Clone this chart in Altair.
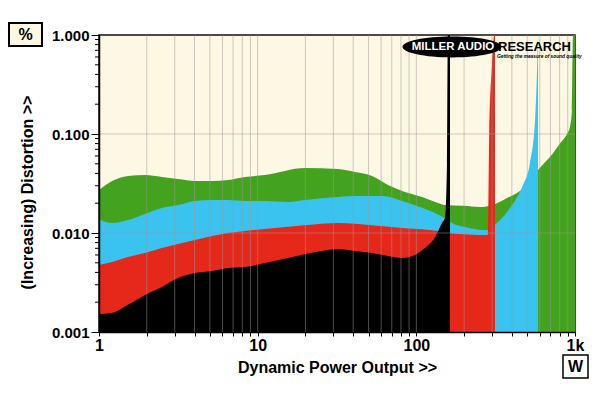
import altair as alt
import pandas as pd

# ---- data (W vs % distortion) ----
green_x = [1.0, 1.21, 1.52, 1.95, 2.49, 3.15, 4.03, 5.15, 6.5, 8.32, 11.1, 19.9, 32.1, 41.1, 52.6, 66.3,
           84.8, 108.6, 136.9, 151.7, 197, 252, 304, 373, 431, 498, 585, 727, 804, 890, 929, 957, 972, 1000]
green_y = [0.0272, 0.0335, 0.0376, 0.0385, 0.0368, 0.0351, 0.0335, 0.0335, 0.0343, 0.0368, 0.0385, 0.0454,
           0.0443, 0.0413, 0.0376, 0.0305, 0.0259, 0.0231, 0.0201, 0.0192, 0.0188, 0.0183, 0.0192, 0.0226,
           0.0254, 0.0305, 0.0433, 0.064, 0.080, 0.100, 0.118, 0.175, 1.0, 1.0]

cyan_x = [1.0, 1.21, 1.52, 1.95, 2.49, 3.15, 4.03, 5.15, 6.5, 8.32, 11.1, 15.5, 19.9, 32.1, 41.1, 60.8,
          84.8, 118, 147, 163, 218, 279, 322, 373, 431, 470, 520, 560, 578, 585]
cyan_y = [0.0138, 0.0126, 0.0135, 0.0156, 0.0179, 0.0192, 0.0211, 0.0216, 0.0216, 0.0211, 0.0211, 0.0206,
          0.0216, 0.0231, 0.0236, 0.0236, 0.0206, 0.0171, 0.0145, 0.0129, 0.0112, 0.0107, 0.0126, 0.0163,
          0.0230, 0.0305, 0.051, 0.138, 0.5, 1.0]

red_x = [1.0, 1.21, 1.52, 1.95, 2.49, 3.15, 4.03, 5.15, 6.5, 8.32, 11.1, 19.9, 32.1, 52.6, 84.8, 137,
         163, 282, 288, 300, 310, 313]
red_y = [0.00475, 0.0051, 0.00573, 0.00628, 0.00705, 0.00774, 0.0085, 0.00933, 0.0100, 0.0105, 0.0110,
         0.0120, 0.0126, 0.0120, 0.0112, 0.0105, 0.00995, 0.00955, 0.1, 0.5, 1.0, 1.0]

black_x = [1.0, 1.21, 1.52, 1.95, 2.49, 3.15, 4.03, 5.15, 6.5, 8.32, 11.1, 15.5, 25.4, 32.1, 41.1, 52.6,
           66.3, 81, 98, 113, 131, 145, 152, 156, 158, 163]
black_y = [0.00152, 0.00156, 0.00188, 0.00237, 0.00285, 0.00351, 0.00394, 0.00413, 0.00443, 0.00454,
           0.00498, 0.00559, 0.00658, 0.00689, 0.00658, 0.00628, 0.00586, 0.00559, 0.0060, 0.00705,
           0.0090, 0.0126, 0.0145, 0.05, 1.0, 1.0]

x_ticks = [1, 2, 3, 4, 5, 6, 7, 8, 9, 10, 20, 30, 40, 50, 60, 70, 80, 90, 100,
           200, 300, 400, 500, 600, 700, 800, 900, 1000]
y_major = [0.001, 0.01, 0.1, 1.0]
y_grid = [0.01, 0.1]
y_minor = [0.002, 0.003, 0.004, 0.005, 0.006, 0.007, 0.008, 0.009,
           0.02, 0.03, 0.04, 0.05, 0.06, 0.07, 0.08, 0.09,
           0.2, 0.3, 0.4, 0.5, 0.6, 0.7, 0.8, 0.9]

series = [("green", green_x, green_y, "#43a31f"),
          ("cyan", cyan_x, cyan_y, "#3bc3f0"),
          ("red", red_x, red_y, "#e5281a"),
          ("black", black_x, black_y, "#000000")]

FONT = "Liberation Sans"
CREAM = "#fcf8e3"
W, H = 476, 297

xscale = alt.Scale(type="log", domain=[1, 1000], nice=False)
yscale = alt.Scale(type="log", domain=[0.001, 1], nice=False)

x_axis = alt.Axis(values=x_ticks, grid=False, zindex=1,
                  labelExpr="datum.value==1 ? '1' : datum.value==10 ? '10' : datum.value==100 ? '100' : datum.value==1000 ? '1k' : ''",
                  labelOverlap=False, labelFlush=False, labelFont=FONT, labelFontSize=16,
                  labelFontWeight="bold", labelColor="black", labelPadding=1,
                  tickSize=4, tickColor="black", domainColor="black", domainWidth=1.5,
                  title="Dynamic Power Output >>", titleFont=FONT, titleFontSize=16,
                  titleFontWeight="bold", titleColor="black", titlePadding=6)
y_axis = alt.Axis(values=y_major, grid=False, zindex=1, format=".3f",
                  labelOverlap=False, labelFlush=False, labelFont=FONT, labelFontSize=15,
                  labelFontWeight="bold", labelColor="black", labelPadding=2,
                  tickSize=8, tickColor="black", domainColor="black", domainWidth=1.5,
                  title="(Increasing) Distortion >>", titleFont=FONT, titleFontSize=16,
                  titleFontWeight="bold", titleColor="black", titleX=-72, titleY=157,
                  titleBaseline="middle", titleAngle=270)

X = lambda: alt.X("x:Q", scale=xscale, axis=x_axis)
Y = lambda: alt.Y("y:Q", scale=yscale, axis=y_axis)

layers = []
for name, xs, ys, col in series:
    d = pd.DataFrame({"x": xs, "y": ys})
    layers.append(
        alt.Chart(d).mark_area(color=col, interpolate="monotone", clip=True, opacity=1).encode(
            x=X(), y=Y(), y2=alt.datum(0.001),
        )
    )

# gridlines drawn over the areas
layers.append(alt.Chart(pd.DataFrame({"x": x_ticks[1:-1]})).mark_rule(
    color="#999999", opacity=0.5, strokeWidth=1).encode(x=X()))
layers.append(alt.Chart(pd.DataFrame({"y": y_grid})).mark_rule(
    color="#999999", opacity=0.5, strokeWidth=1).encode(y=Y()))
# minor y ticks
layers.append(alt.Chart(pd.DataFrame({"y": y_minor})).mark_rule(
    color="black", strokeWidth=1).encode(y=Y(), x=alt.value(-4), x2=alt.value(0)))

# logo
ellipse = "M-1,0A1,0.21,0,1,0,1,0A1,0.21,0,1,0,-1,0Z"
layers.append(alt.Chart(pd.DataFrame({"t": ["logo"]})).mark_point(
    shape=ellipse, size=9801, filled=True, color="black", opacity=1, strokeWidth=0).encode(
    x=alt.value(353), y=alt.value(12)))
layers.append(alt.Chart(pd.DataFrame({"t": ["MILLER AUDIO"]})).mark_text(
    font=FONT, fontSize=11.5, fontWeight="bold", color="white", align="center", baseline="middle").encode(
    x=alt.value(354), y=alt.value(12), text="t:N"))
layers.append(alt.Chart(pd.DataFrame({"t": ["RESEARCH"]})).mark_text(
    font=FONT, fontSize=13, fontWeight="bold", color="black", align="left", baseline="middle").encode(
    x=alt.value(399), y=alt.value(12), text="t:N"))
layers.append(alt.Chart(pd.DataFrame({"t": ["Getting the measure of sound quality"]})).mark_text(
    font=FONT, fontSize=4.8, fontWeight="bold", fontStyle="italic", color="black", align="left",
    baseline="middle").encode(x=alt.value(398), y=alt.value(22), text="t:N"))

# unit boxes
layers.append(alt.Chart(pd.DataFrame({"t": ["%"]})).mark_rect(
    fill=CREAM, stroke="black", strokeWidth=2).encode(
    x=alt.value(-90), x2=alt.value(-57), y=alt.value(-12), y2=alt.value(11)))
layers.append(alt.Chart(pd.DataFrame({"t": ["%"]})).mark_text(
    font=FONT, fontSize=16, fontWeight="bold", color="black", align="center", baseline="middle").encode(
    x=alt.value(-73.5), y=alt.value(0), text="t:N"))
layers.append(alt.Chart(pd.DataFrame({"t": ["W"]})).mark_rect(
    fill="white", stroke="black", strokeWidth=1.5).encode(
    x=alt.value(464), x2=alt.value(489), y=alt.value(320), y2=alt.value(343)))
layers.append(alt.Chart(pd.DataFrame({"t": ["W"]})).mark_text(
    font=FONT, fontSize=16, fontWeight="bold", color="black", align="center", baseline="middle").encode(
    x=alt.value(476.5), y=alt.value(332), text="t:N"))

chart = alt.layer(*layers).properties(
    width=W, height=H, background="white",
    autosize=alt.AutoSizeParams(type="none"),
    padding={"left": 91, "top": 27, "right": 16, "bottom": 52},
).configure_view(fill=CREAM, stroke="#111111", strokeWidth=1.5)

chart.save("out.html", embed_options={"renderer": "svg", "actions": False})
